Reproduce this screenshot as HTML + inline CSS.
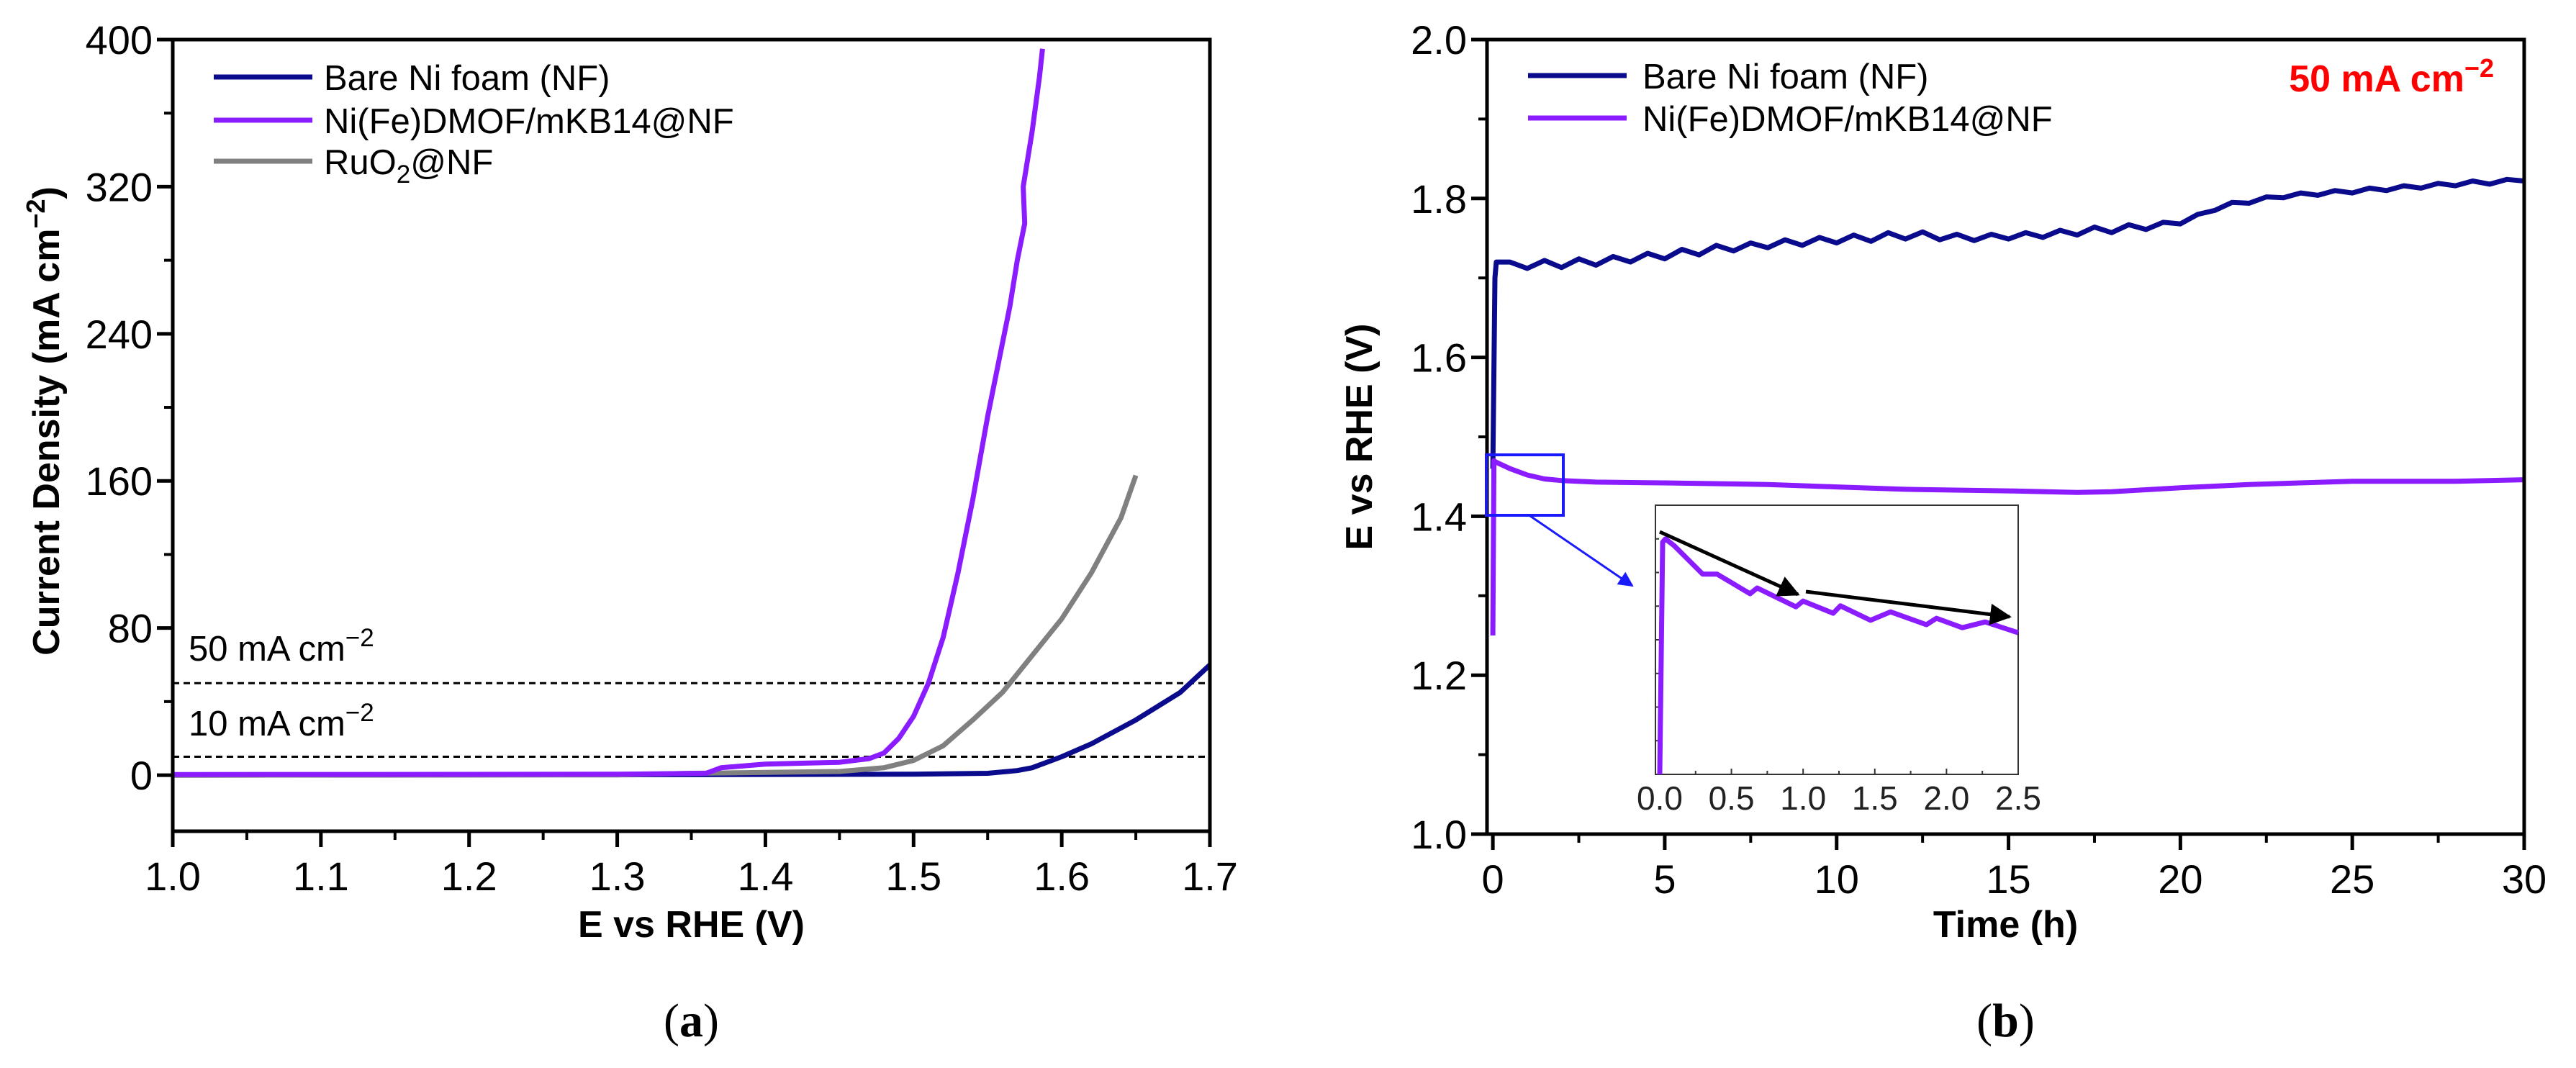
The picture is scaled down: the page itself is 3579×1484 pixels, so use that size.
<!DOCTYPE html>
<html><head><meta charset="utf-8"><style>
html,body{margin:0;padding:0;background:#fff}
svg{display:block}
text{font-family:"Liberation Sans",Arial,sans-serif}
</style></head><body>
<svg id="fig" width="3579" height="1484" viewBox="0 0 3579 1484" xmlns="http://www.w3.org/2000/svg"></svg>
<script>
// ---- Panel (a) data ----
const aTicksX=[1.0,1.1,1.2,1.3,1.4,1.5,1.6,1.7];
const aTicksY=[0,80,160,240,320,400];
const aBareX=[1.0,1.3,1.5,1.55,1.57,1.58,1.6,1.62,1.65,1.68,1.7];
const aBareY=[0,0.2,0.5,1,2.5,4,10,17,30,45,60];
const aNiFeX=[1.0,1.3,1.36,1.37,1.4,1.45,1.47,1.48,1.49,1.5,1.51,1.52,1.53,1.54,1.55,1.56,1.565,1.57,1.575,1.574,1.577,1.58,1.585,1.587];
const aNiFeY=[0.3,0.5,1,4,6,7,9,12,20,32,50,75,110,150,195,235,255,280,300,320,335,350,380,395];
const aRuX=[1.0,1.3,1.35,1.45,1.48,1.5,1.52,1.54,1.56,1.57,1.6,1.62,1.64,1.65];
const aRuY=[0,0.2,1,2,4,8,16,30,45,55,85,110,140,163];
const aRefLines=[50,10];
// ---- Panel (b) data ----
const bTicksX=[0,5,10,15,20,25,30];
const bTicksY=[1.0,1.2,1.4,1.6,1.8,2.0];
const bBareT=[0,0.06,0.1,0.5,1.0,1.5,2.0,2.5,3.0,3.5,4.0,4.5,5.0,5.5,6.0,6.5,7.0,7.5,8.0,8.5,9.0,9.5,10,10.5,11,11.5,12,12.5,13,13.5,14,14.5,15,15.5,16,16.5,17,17.5,18,18.5,19,19.5,20,20.5,21,21.5,22,22.5,23,23.5,24,24.5,25,25.5,26,26.5,27,27.5,28,28.5,29,29.5,30];
const bBareV=[1.46,1.70,1.72,1.720,1.712,1.722,1.713,1.724,1.716,1.727,1.720,1.731,1.724,1.736,1.729,1.741,1.734,1.744,1.738,1.748,1.741,1.751,1.744,1.754,1.746,1.757,1.749,1.758,1.748,1.755,1.747,1.755,1.749,1.757,1.751,1.760,1.754,1.764,1.757,1.767,1.761,1.770,1.768,1.780,1.785,1.795,1.794,1.802,1.801,1.807,1.804,1.810,1.807,1.813,1.810,1.816,1.813,1.819,1.816,1.822,1.818,1.824,1.822];
const bNiFeT=[0,0.03,0.1,0.5,1,1.5,2,3,5,8,10,12,15,17,18,20,22,25,28,30];
const bNiFeV=[1.25,1.47,1.468,1.46,1.452,1.447,1.445,1.443,1.442,1.440,1.437,1.434,1.432,1.430,1.431,1.436,1.440,1.444,1.444,1.446];
const insTicksX=[0.0,0.5,1.0,1.5,2.0,2.5];
const insT=[0.0,0.02,0.04,0.1,0.3,0.4,0.63,0.68,0.95,1.0,1.21,1.26,1.47,1.61,1.86,1.93,2.11,2.27,2.5];
const insV=[1.40,1.469,1.470,1.468,1.4595,1.4595,1.4537,1.4554,1.4498,1.4515,1.4479,1.4501,1.4458,1.4483,1.4445,1.4464,1.4436,1.4453,1.4421];

const NS="http://www.w3.org/2000/svg";
const svg=document.getElementById('fig');
function el(tag,attrs,parent){const e=document.createElementNS(NS,tag);for(const k in attrs)e.setAttribute(k,attrs[k]);(parent||svg).appendChild(e);return e;}
function lin(d0,d1,r0,r1){return v=>r0+(v-d0)/(d1-d0)*(r1-r0);}
function pathD(xs,ys,sx,sy){return xs.map((x,i)=>(i?'L':'M')+sx(x).toFixed(1)+' '+sy(ys[i]).toFixed(1)).join(' ');}
const TF=56, LF=49;

// ===== Panel A =====
const aL=240,aR=1681,aT=55,aB=1155;
const ax=lin(1.0,1.7,aL,aR), ay=lin(-30.5,400,aB,aT);
const gA=el('g',{});


aRefLines.forEach(v=>{const l=el('line',{x1:aL,x2:aR,y1:ay(v),y2:ay(v),stroke:'#000','stroke-width':3,'stroke-dasharray':'9 6'},gA);

});
let t=el('text',{x:262,y:918,'font-size':LF},gA);t.innerHTML='50 mA cm<tspan dy="-20" font-size="35">−2</tspan>';

t=el('text',{x:262,y:1022,'font-size':LF},gA);t.innerHTML='10 mA cm<tspan dy="-20" font-size="35">−2</tspan>';

let p=el('path',{d:pathD(aBareX,aBareY,ax,ay),fill:'none',stroke:'#0a0a8c','stroke-width':7,'stroke-linejoin':'round'},gA);

p=el('path',{d:pathD(aRuX,aRuY,ax,ay),fill:'none',stroke:'#808080','stroke-width':7,'stroke-linejoin':'round'},gA);

p=el('path',{d:pathD(aNiFeX,aNiFeY,ax,ay),fill:'none',stroke:'#8a1cff','stroke-width':7,'stroke-linejoin':'round'},gA);

el('rect',{x:aL,y:aT,width:aR-aL,height:aB-aT,fill:'none',stroke:'#000','stroke-width':5},gA);
aTicksX.forEach(v=>{el('line',{x1:ax(v),x2:ax(v),y1:aB,y2:aB+22,stroke:'#000','stroke-width':5},gA);
const tt=el('text',{x:ax(v),y:aB+82,'font-size':TF,'text-anchor':'middle'},gA);tt.textContent=v.toFixed(1);
});
for(let i=0;i<aTicksX.length-1;i++){const m=(aTicksX[i]+aTicksX[i+1])/2;el('line',{x1:ax(m),x2:ax(m),y1:aB,y2:aB+12,stroke:'#000','stroke-width':4},gA);}
aTicksY.forEach(v=>{el('line',{x1:aL,x2:aL-22,y1:ay(v),y2:ay(v),stroke:'#000','stroke-width':5},gA);
const tt=el('text',{x:aL-28,y:ay(v)+20,'font-size':TF,'text-anchor':'end'},gA);tt.textContent=v;
});
for(let i=0;i<aTicksY.length-1;i++){const m=(aTicksY[i]+aTicksY[i+1])/2;el('line',{x1:aL,x2:aL-12,y1:ay(m),y2:ay(m),stroke:'#000','stroke-width':4},gA);}
t=el('text',{x:(aL+aR)/2,y:1302,'font-size':52,'font-weight':'bold','text-anchor':'middle'},gA);t.textContent='E vs RHE (V)';

t=el('text',{x:0,y:0,'font-size':52,'font-weight':'bold','text-anchor':'middle',transform:'translate(82 '+((aT+aB)/2-20)+') rotate(-90)'},gA);
t.innerHTML='Current Density (mA cm<tspan dy="-20" font-size="36">−2</tspan><tspan dy="20">)</tspan>';

[['Bare Ni foam (NF)','#0a0a8c',107],['Ni(Fe)DMOF/mKB14@NF','#8a1cff',167],['RuO<tspan dy="12" font-size="35">2</tspan><tspan dy="-12">@NF</tspan>','#808080',224]].forEach((r,i)=>{
const g=el('g',{},gA);
el('line',{x1:297,x2:434,y1:r[2],y2:r[2],stroke:r[1],'stroke-width':7},g);
const tt=el('text',{x:450,y:r[2]+18,'font-size':LF},g);tt.innerHTML=r[0];});
t=el('text',{x:(aL+aR)/2,y:1440,'font-size':66,'text-anchor':'middle'},gA);
t.innerHTML='(<tspan font-weight="bold">a</tspan>)';t.style.fontFamily='"Liberation Serif",serif';


// ===== Panel B =====
const bL=2066,bR=3507,bT=55,bB=1159;
const bx=lin(-0.17,30,bL,bR), by=lin(1.0,2.0,bB,bT);
const gB=el('g',{});


p=el('path',{d:pathD(bBareT,bBareV,bx,by),fill:'none',stroke:'#0a0a8c','stroke-width':7,'stroke-linejoin':'round'},gB);

p=el('path',{d:pathD(bNiFeT,bNiFeV,bx,by),fill:'none',stroke:'#8a1cff','stroke-width':7,'stroke-linejoin':'round'},gB);

el('rect',{x:bL,y:bT,width:bR-bL,height:bB-bT,fill:'none',stroke:'#000','stroke-width':5},gB);
bTicksX.forEach(v=>{el('line',{x1:bx(v),x2:bx(v),y1:bB,y2:bB+22,stroke:'#000','stroke-width':5},gB);
const tt=el('text',{x:bx(v),y:bB+82,'font-size':TF,'text-anchor':'middle'},gB);tt.textContent=v;
});
for(let i=0;i<bTicksX.length-1;i++){const m=(bTicksX[i]+bTicksX[i+1])/2;el('line',{x1:bx(m),x2:bx(m),y1:bB,y2:bB+12,stroke:'#000','stroke-width':4},gB);}
bTicksY.forEach(v=>{el('line',{x1:bL,x2:bL-22,y1:by(v),y2:by(v),stroke:'#000','stroke-width':5},gB);
const tt=el('text',{x:bL-28,y:by(v)+20,'font-size':TF,'text-anchor':'end'},gB);tt.textContent=v.toFixed(1);
});
for(let i=0;i<bTicksY.length-1;i++){const m=(bTicksY[i]+bTicksY[i+1])/2;el('line',{x1:bL,x2:bL-12,y1:by(m),y2:by(m),stroke:'#000','stroke-width':4},gB);}
t=el('text',{x:(bL+bR)/2,y:1302,'font-size':52,'font-weight':'bold','text-anchor':'middle'},gB);t.textContent='Time (h)';

t=el('text',{x:0,y:0,'font-size':52,'font-weight':'bold','text-anchor':'middle',transform:'translate(1906 '+((bT+bB)/2)+') rotate(-90)'},gB);
t.textContent='E vs RHE (V)';

[['Bare Ni foam (NF)','#0a0a8c',105],['Ni(Fe)DMOF/mKB14@NF','#8a1cff',164]].forEach((r,i)=>{
const g=el('g',{},gB);
el('line',{x1:2123,x2:2260,y1:r[2],y2:r[2],stroke:r[1],'stroke-width':7},g);
const tt=el('text',{x:2282,y:r[2]+18,'font-size':LF},g);tt.textContent=r[0];});
t=el('text',{x:3465,y:127,'font-size':52,'font-weight':'bold','text-anchor':'end',fill:'#ff0000'},gB);
t.innerHTML='50 mA cm<tspan dy="-20" font-size="36">−2</tspan>';

t=el('rect',{x:2065,y:632,width:107,height:84,fill:'none',stroke:'#1a1aff','stroke-width':4},gB);

el('defs',{},gB).innerHTML='<marker id="ab" viewBox="0 0 10 10" refX="9" refY="5" markerWidth="7" markerHeight="7" orient="auto"><path d="M0 0L10 5L0 10z" fill="#1a1aff"/></marker><marker id="ak" viewBox="0 0 10 10" refX="9" refY="5" markerWidth="6" markerHeight="6" orient="auto"><path d="M0 0L10 5L0 10z" fill="#000"/></marker>';
t=el('line',{x1:2126,y1:717,x2:2268,y2:814,stroke:'#1a1aff','stroke-width':3,'marker-end':'url(#ab)'},gB);

const iL=2300,iR=2804,iT=702,iB=1076;
const ix=lin(-0.03,2.5,iL,iR), iy=lin(1.40,1.48,iB,iT);
const gI=el('g',{},gB);
el('rect',{x:iL,y:iT,width:iR-iL,height:iB-iT,fill:'none',stroke:'#333','stroke-width':2},gI);
for(let k=1;k<8;k++){const yy=iT+(iB-iT)*k/8;el('line',{x1:iL,x2:iL+5,y1:yy,y2:yy,stroke:'#333','stroke-width':2},gI);}
insTicksX.forEach((v,i)=>{el('line',{x1:ix(v),x2:ix(v),y1:iB,y2:iB-8,stroke:'#333','stroke-width':2},gI);
if(i<insTicksX.length-1){const m=v+0.25;el('line',{x1:ix(m),x2:ix(m),y1:iB,y2:iB-5,stroke:'#333','stroke-width':2},gI);}
const tt=el('text',{x:ix(v),y:iB+49,'font-size':46,'text-anchor':'middle',fill:'#222'},gI);tt.textContent=v.toFixed(1);
});
p=el('path',{d:pathD(insT,insV,ix,iy),fill:'none',stroke:'#8a1cff','stroke-width':7,'stroke-linejoin':'round'},gI);

t=el('line',{x1:2306,y1:739,x2:2498,y2:826,stroke:'#000','stroke-width':5,'marker-end':'url(#ak)'},gI);

t=el('line',{x1:2509,y1:822,x2:2792,y2:857,stroke:'#000','stroke-width':5,'marker-end':'url(#ak)'},gI);

t=el('text',{x:(bL+bR)/2,y:1440,'font-size':66,'text-anchor':'middle'},gB);
t.innerHTML='(<tspan font-weight="bold">b</tspan>)';t.style.fontFamily='"Liberation Serif",serif';

</script>
</body></html>
